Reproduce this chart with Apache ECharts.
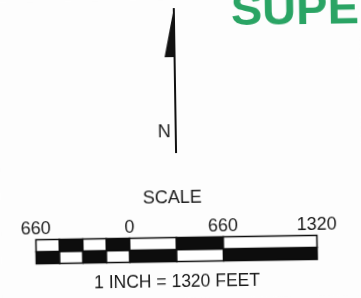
<!DOCTYPE html>
<html>
<head>
<meta charset="utf-8">
<script src="https://cdn.jsdelivr.net/npm/echarts@6/dist/echarts.min.js"></script>
<style>
  html, body { margin: 0; padding: 0; background: #fdfdfd; overflow: hidden; }
  /* the scanned sheet sits a little crooked */
  #scale { width: 361px; height: 298px; transform: rotate(-0.9deg); transform-origin: 50% 50%; }
</style>
</head>
<body>
<div id="scale"></div>
<script>
// scale bar, feet
var tickFeet = [-660, 0, 660, 1320];
var segEdges = [-660, -495, -330, -165, 0, 330, 660, 1320];
var rows = [0, 1]; // 0 = bottom row, 1 = top row

var segData = [];
rows.forEach(function (r) {
    for (var i = 0; i < segEdges.length - 1; i++) {
        // top row starts white, bottom row starts black
        segData.push([segEdges[i], segEdges[i + 1], r, (i + r + 1) % 2]);
    }
});

var chart = echarts.init(document.getElementById('scale'), null, {renderer: 'canvas'});

var font = '"Liberation Sans", Arial, sans-serif';

option = {
    backgroundColor: '#fdfdfd',
    animation: false,
    grid: {
        left: 34.5,
        right: 45.5,
        top: 237.5,
        height: 24
    },
    xAxis: {
        type: 'value',
        position: 'top',
        min: -660,
        max: 1320,
        interval: 660,
        axisLine: {show: false},
        axisTick: {show: false},
        splitLine: {show: false},
        axisLabel: {
            margin: 1,
            color: '#1a1a1a',
            fontSize: 18,
            fontFamily: font,
            formatter: function (v) {
                return tickFeet.indexOf(v) >= 0 ? String(Math.abs(v)) : '';
            }
        }
    },
    yAxis: {
        type: 'value',
        min: 0,
        max: 2,
        show: false
    },
    graphic: [
        {
            type: 'text',
            left: 233,
            top: -10,
            style: {
                text: 'SUPE',
                fill: '#2aa464',
                font: 'bold 47px "Liberation Sans", Arial, sans-serif'
            }
        },
        {
            // north arrow shaft
            type: 'line',
            shape: {x1: 176, y1: 8, x2: 176, y2: 153},
            style: {stroke: '#111', lineWidth: 2}
        },
        {
            type: 'polygon',
            shape: {points: [[176, 8], [166, 57], [177, 57]]},
            style: {fill: '#111'}
        },
        {
            type: 'text',
            x: 158,
            y: 123,
            style: {
                text: 'N',
                fill: '#1a1a1a',
                font: '18px "Liberation Sans", Arial, sans-serif'
            }
        },
        {
            type: 'text',
            x: 171.5,
            y: 189,
            style: {
                text: 'SCALE',
                fill: '#1a1a1a',
                align: 'center',
                font: '18px "Liberation Sans", Arial, sans-serif'
            }
        },
        {
            type: 'text',
            x: 175,
            y: 273,
            style: {
                text: '1 INCH = 1320 FEET',
                fill: '#1a1a1a',
                align: 'center',
                font: '17.5px "Liberation Sans", Arial, sans-serif'
            }
        }
    ],
    series: [
        {
            type: 'custom',
            data: segData,
            renderItem: function (params, api) {
                var p0 = api.coord([api.value(0), api.value(2) + 1]);
                var p1 = api.coord([api.value(1), api.value(2)]);
                return {
                    type: 'rect',
                    shape: {x: p0[0], y: p0[1], width: p1[0] - p0[0], height: p1[1] - p0[1]},
                    style: {
                        fill: api.value(3) ? '#0d0d0d' : '#ffffff',
                        stroke: '#0d0d0d',
                        lineWidth: 1.5
                    }
                };
            }
        }
    ]
};

chart.setOption(option);
</script>
</body>
</html>
